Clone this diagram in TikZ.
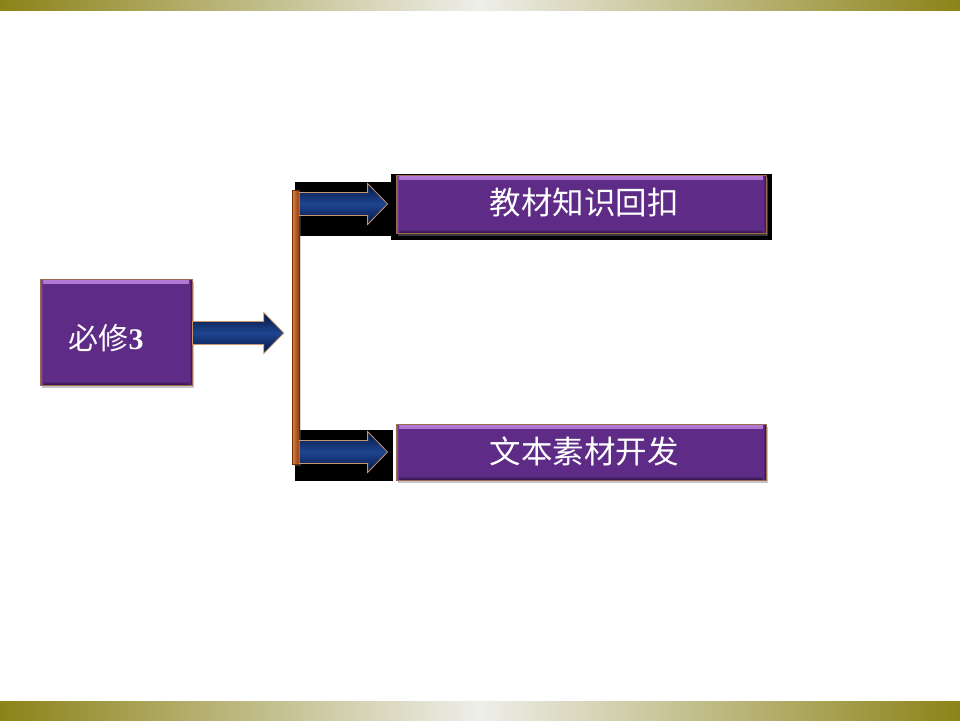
\documentclass[tikz,border=0pt]{standalone}
\usepackage{fontspec}
\newfontfamily\cjk{Noto Sans CJK SC}
\newfontfamily\numfont{Liberation Serif}
\usetikzlibrary{shadows,calc}
\definecolor{olivebar}{HTML}{8C8318}
\definecolor{lightbar}{HTML}{EEEEEA}
\definecolor{purp}{HTML}{5E2B86}
\definecolor{purplight}{HTML}{B47AD6}
\definecolor{purpdark}{HTML}{2E1245}
\definecolor{boxedge}{HTML}{9A6A52}
\definecolor{navy}{HTML}{051540}
\definecolor{navymid}{HTML}{1E4590}
\definecolor{arredge}{HTML}{C8946A}
\definecolor{barlight}{HTML}{E8843A}
\definecolor{bardark}{HTML}{8A3A12}
\tikzset{
  pbox/.style={draw=boxedge, line width=0.8pt, fill=purp, inner sep=0pt,
    drop shadow={opacity=0.45, shadow xshift=2pt, shadow yshift=-3pt},
    path picture={
      \shade[top color=purplight, bottom color=purp]
        (path picture bounding box.north west) rectangle ([yshift=-4pt]path picture bounding box.north east);
      \shade[top color=purp, bottom color=purpdark]
        ([yshift=4pt]path picture bounding box.south west) rectangle (path picture bounding box.south east);
      \shade[left color=purplight!60!purp, right color=purp]
        (path picture bounding box.north west) rectangle ([xshift=3pt]path picture bounding box.south west);
      \shade[left color=purp, right color=purpdark]
        ([xshift=-3pt]path picture bounding box.north east) rectangle (path picture bounding box.south east);
    }},
  fatarr/.style={draw=arredge, line width=0.8pt, top color=navy, bottom color=navy, middle color=navymid},
  barst/.style={draw=bardark!80!black, line width=0.5pt, left color=barlight, right color=bardark, inner sep=0pt,
    drop shadow={opacity=0.35, shadow xshift=1.5pt, shadow yshift=-1.5pt}},
  boxtext/.style={text=white, font=\cjk\fontsize{31.5}{36}\selectfont}
}
\newcommand\fatarrow[2]{%
  \draw[fatarr] let \p1=(#1), \p2=(#2) in
    (\x1,\y1+11.5pt) -- (\x2-20pt,\y1+11.5pt) -- (\x2-20pt,\y1+20.5pt) -- (\x2,\y1)
    -- (\x2-20pt,\y1-20.5pt) -- (\x2-20pt,\y1-11.5pt) -- (\x1,\y1-11.5pt) -- cycle;}
\begin{document}
\begin{tikzpicture}[x=1pt,y=-1pt]
\useasboundingbox (0,0) rectangle (960,720);
\fill[white] (0,0) rectangle (960,720);
% top and bottom bars
\shade[left color=olivebar, right color=olivebar, middle color=lightbar] (0,0) rectangle (960,10);
\shade[left color=olivebar, right color=olivebar, middle color=lightbar] (0,701) rectangle (960,720);
% black backgrounds
\fill[black] (295,182) rectangle (393,236);
\fill[black] (391,174) rectangle (772,240);
\fill[black] (295,430) rectangle (393,481);
% left box
\node[pbox, minimum width=152pt, minimum height=106pt] (m) at (116,332) {};
\node[text=white, inner sep=0pt] (mt) at (106,338)
  {\cjk\fontsize{30}{34}\selectfont 必修\numfont\bfseries 3};
% vertical bar
\node[barst, minimum width=7pt, minimum height=274pt] (bar) at (295.5,327.5) {};
% right boxes
\node[pbox, minimum width=370pt, minimum height=58pt] (b1) at (581,204) {};
\node[boxtext] (t1) at (584,203) {教材知识回扣};
\node[pbox, minimum width=370pt, minimum height=56pt] (b2) at (581,452) {};
\node[boxtext] (t2) at (584,451) {文本素材开发};
% arrows
\coordinate (a1s) at (m.east |- 0,333);
\coordinate (a1e) at ([xshift=-8pt]bar.west |- 0,333);
\fatarrow{a1s}{a1e}
\coordinate (a2s) at (bar.east |- b1.west);
\coordinate (a2e) at ([xshift=-8pt]b1.west);
\fatarrow{a2s}{a2e}
\coordinate (a3s) at (bar.east |- b2.west);
\coordinate (a3e) at ([xshift=-8pt]b2.west);
\fatarrow{a3s}{a3e}
\end{tikzpicture}
\end{document}
